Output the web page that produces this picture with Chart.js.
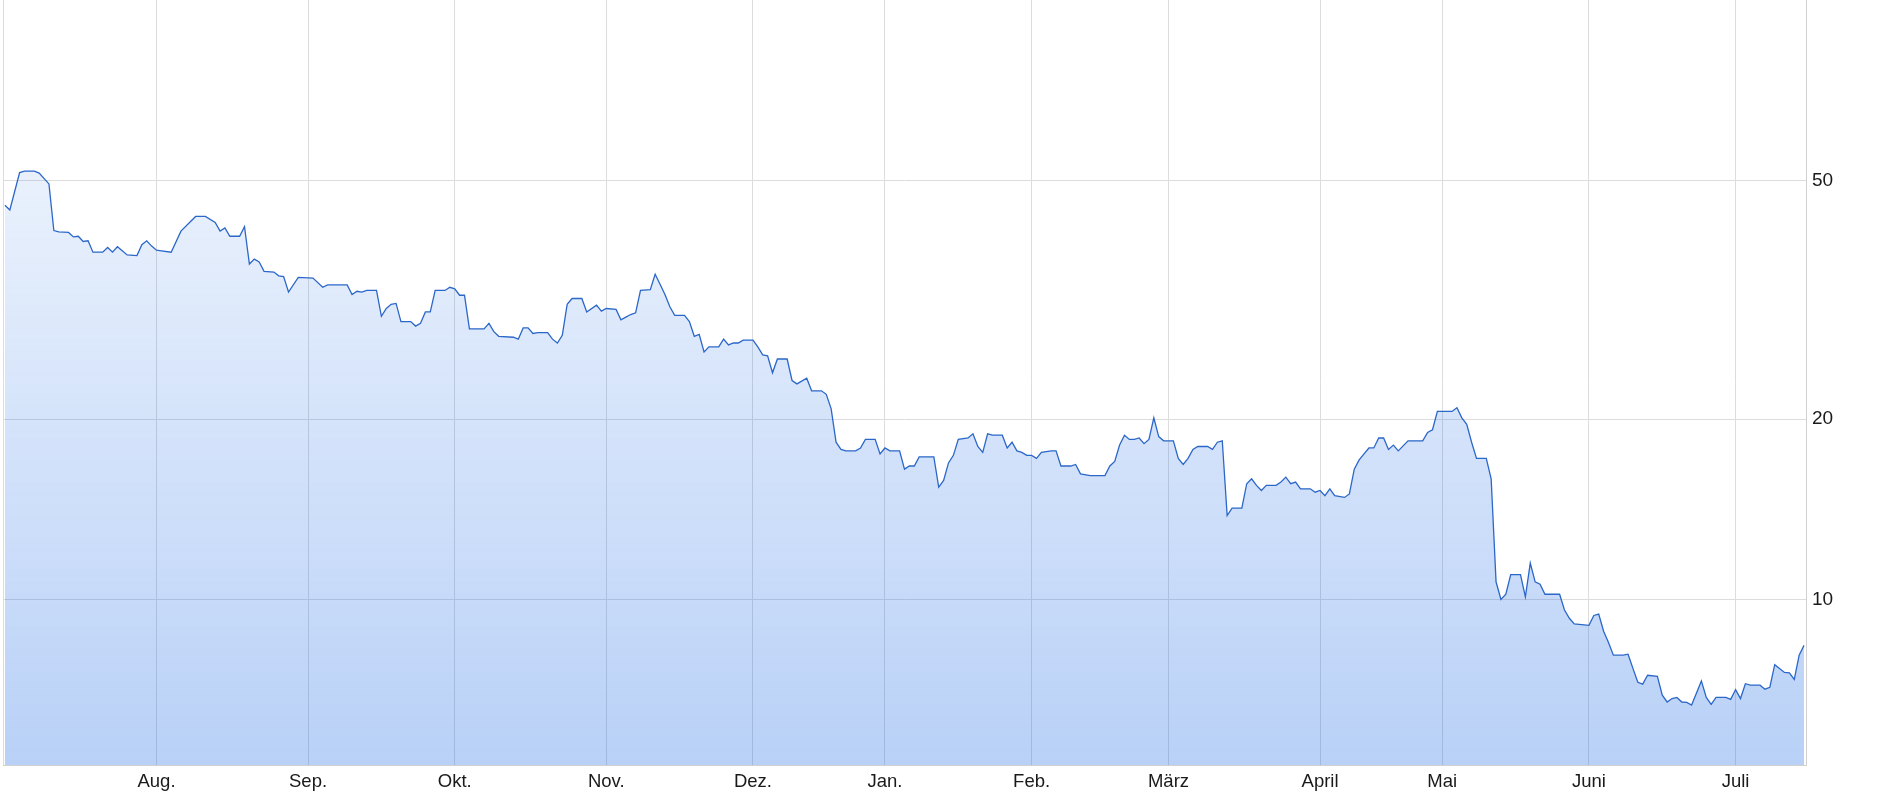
<!DOCTYPE html>
<html lang="de">
<head>
<meta charset="utf-8">
<title>Kursverlauf</title>
<script src="https://cdn.jsdelivr.net/npm/chart.js@4.4.1/dist/chart.umd.min.js"></script>
<style>
  html, body { margin: 0; padding: 0; background: #fff; }
  #wrap { width: 1880px; height: 798px; position: relative; }
</style>
</head>
<body>
<div id="wrap"><canvas id="kursChart"></canvas></div>
<script>
// -------------------------------
//  DATA (day index from first point, price)
// -------------------------------
const tradeDay = [
    0, 1, 3, 4, 6, 7, 9, 10, 11, 13, 14, 15, 16, 17, 18, 20, 21, 22, 23, 25,
    27, 28, 29, 30, 31, 32, 34, 36, 39, 41, 43, 44, 45, 46, 48, 49, 50, 51, 52, 53,
    55, 56, 57, 58, 60,
    63, 65, 66, 68, 70, 71, 72, 73, 74, 76, 77, 78, 79, 80, 81, 83, 84, 85, 86, 87,
    88, 90, 91, 92, 93, 94, 95, 98, 99, 100, 101, 104, 105, 106, 107, 108, 109, 111, 112, 113,
    114, 115, 116, 118, 119, 121, 122, 123,
    125, 126, 127, 128, 129, 130, 132, 133, 134, 135, 136, 137, 139, 140, 141, 142, 143, 144, 146, 147,
    148, 149, 150, 151, 153, 154, 155, 156, 157, 158, 160, 161, 162, 164, 165, 167, 168, 169, 170, 171,
    172, 174, 175, 176, 178, 179, 180, 181, 183,
    184, 185, 186, 187, 188, 190, 191, 192, 193, 194, 195, 197, 198, 199, 200, 201, 202, 204, 205, 206,
    207, 208, 209, 210, 211, 212, 214, 215, 216, 218, 219, 220, 222, 223, 225, 226, 227, 228, 229, 230,
    231, 232, 233, 234, 235, 236, 237, 239,
    240, 241, 242, 243, 244, 246, 247, 248, 249, 250, 251, 253, 254, 255, 256, 257, 258, 260, 261, 262,
    263, 264, 265, 267, 268, 269, 270, 271, 272, 274, 275, 276, 277, 278, 279, 280, 281, 282, 283, 284,
    285, 287, 288, 290, 291, 292, 293, 295, 296,
    297, 298, 299, 300, 301, 302, 303, 304, 305, 306, 307, 308, 310, 311, 312, 313, 314, 315, 317, 318,
    319, 320, 321, 324, 325, 326, 327, 328, 329, 331, 332, 333, 334, 335, 336, 338, 339, 340, 341, 342,
    343, 344, 345, 346, 347, 348, 349, 350, 352, 353, 354, 355, 356, 357, 359, 360, 361, 362, 364, 365,
    366, 367, 368
];

const closePrice = [
    45.5, 44.7, 51.6, 51.9, 51.9, 51.5, 49.4, 41.3, 41.1, 41.0, 40.3, 40.4, 39.6, 39.7, 38.0, 38.0, 38.7, 38.0, 38.8, 37.6,
    37.5, 39.1, 39.7, 38.9, 38.3, 38.2, 38.0, 41.2, 43.6, 43.6, 42.6, 41.2, 41.7, 40.4, 40.4, 41.9, 36.3, 37.0, 36.6, 35.3,
    35.2, 34.7, 34.6, 32.6, 34.5,
    34.4, 33.2, 33.5, 33.5, 33.5, 32.3, 32.7, 32.6, 32.8, 32.8, 29.7, 30.6, 31.1, 31.2, 29.1, 29.1, 28.6, 28.9, 30.2, 30.2,
    32.8, 32.8, 33.2, 33.0, 32.2, 32.2, 28.3, 28.3, 28.9, 28.0, 27.5, 27.4, 27.2, 28.4, 28.4, 27.8, 27.9, 27.9, 27.2, 26.8,
    27.6, 31.1, 31.8, 31.8, 30.2, 31.0, 30.3, 30.6,
    30.5, 29.3, 29.6, 29.9, 30.1, 32.8, 32.9, 34.9, 33.6, 32.3, 30.8, 29.8, 29.8, 29.1, 27.5, 27.7, 25.9, 26.4, 26.4, 27.2,
    26.6, 26.8, 26.8, 27.1, 27.1, 26.4, 25.6, 25.5, 23.9, 25.2, 25.2, 23.2, 22.9, 23.4, 22.3, 22.3, 22.0, 20.8, 18.3, 17.8,
    17.7, 17.7, 17.9, 18.5, 18.5, 17.5, 17.9, 17.7, 17.7,
    16.5, 16.7, 16.7, 17.3, 17.3, 17.3, 15.4, 15.8, 16.9, 17.4, 18.5, 18.6, 18.9, 18.0, 17.6, 18.9, 18.8, 18.8, 17.9, 18.3,
    17.7, 17.6, 17.4, 17.4, 17.2, 17.6, 17.7, 17.7, 16.7, 16.7, 16.8, 16.2, 16.1, 16.1, 16.1, 16.7, 17.0, 18.1, 18.8, 18.5,
    18.5, 18.6, 18.2, 18.5, 20.1, 18.7, 18.4, 18.4,
    17.2, 16.8, 17.2, 17.8, 18.0, 18.0, 17.8, 18.3, 18.4, 13.8, 14.2, 14.2, 15.6, 15.9, 15.5, 15.2, 15.5, 15.5, 15.7, 16.0,
    15.6, 15.7, 15.3, 15.3, 15.1, 15.2, 14.9, 15.3, 14.9, 14.8, 15.0, 16.5, 17.1, 17.5, 17.9, 17.9, 18.6, 18.6, 17.8, 18.1,
    17.7, 18.4, 18.4, 18.4, 19.0, 19.2, 20.6, 20.6, 20.6,
    20.9, 20.1, 19.6, 18.3, 17.2, 17.2, 17.2, 15.9, 10.7, 10.0, 10.2, 11.0, 11.0, 10.1, 11.5, 10.7, 10.6, 10.2, 10.2, 10.2,
    9.6, 9.3, 9.1, 9.05, 9.4, 9.45, 8.85, 8.47, 8.07, 8.07, 8.1, 7.67, 7.27, 7.22, 7.47, 7.44, 6.92, 6.74, 6.83, 6.86,
    6.74, 6.73, 6.66, 6.98, 7.31, 6.86, 6.68, 6.86, 6.86, 6.81, 7.07, 6.83, 7.23, 7.19, 7.19, 7.08, 7.13, 7.78, 7.55, 7.54,
    7.35, 8.07, 8.38
];

// Month starts on the day axis
const monthLabels = ['Aug.', 'Sep.', 'Okt.', 'Nov.', 'Dez.', 'Jan.', 'Feb.', 'März', 'April', 'Mai', 'Juni', 'Juli'];
const monthStart = [31, 62, 92, 123, 153, 180, 210, 238, 269, 294, 324, 354];

// Price axis ticks (log scale)
const priceTicks = [10, 20, 50];

// -------------------------------
//  THEME
// -------------------------------
const GRID_COLOR = '#dcdcdc';
const BORDER_COLOR = '#d0d0d0';
const LINE_COLOR = '#2b67c9';
const TEXT_COLOR = '#1a1a1a';
const FONT_FAMILY = "'Liberation Sans', Arial, sans-serif";

const X_MIN = -0.4, X_MAX = 368.4;
const Y_MIN = 5.29, Y_MAX = 100.2;

function areaGradient(context) {
    const chart = context.chart;
    const area = chart.chartArea;
    if (!area) return 'rgba(22,102,228,0.15)';
    const g = chart.ctx.createLinearGradient(0, area.top, 0, area.bottom);
    g.addColorStop(0, 'rgba(22,102,228,0.03)');
    g.addColorStop(1, 'rgba(22,102,228,0.30)');
    return g;
}

const points = tradeDay.map((d, i) => ({ x: d, y: closePrice[i] }));

new Chart(document.getElementById('kursChart').getContext('2d'), {
    type: 'line',
    data: {
        datasets: [{
            label: 'Kurs',
            data: points,
            borderColor: LINE_COLOR,
            borderWidth: 1.3,
            backgroundColor: areaGradient,
            fill: 'start',
            pointRadius: 0,
            tension: 0
        }]
    },
    options: {
        responsive: true,
        maintainAspectRatio: false,
        animation: false,
        layout: { padding: { left: 3, top: 0, right: 0, bottom: 0 } },
        plugins: {
            legend: { display: false },
            tooltip: { enabled: false }
        },
        scales: {
            x: {
                type: 'linear',
                min: X_MIN,
                max: X_MAX,
                afterBuildTicks: scale => {
                    scale.ticks = [{ value: X_MIN }].concat(monthStart.map(v => ({ value: v })));
                },
                afterFit: scale => {
                    scale.height = 33;
                    scale.paddingLeft = 0;
                    scale.paddingRight = 0;
                },
                grid: { color: GRID_COLOR, drawTicks: false },
                border: { display: true, color: BORDER_COLOR },
                ticks: {
                    autoSkip: false,
                    maxRotation: 0,
                    padding: 6,
                    color: TEXT_COLOR,
                    font: { family: FONT_FAMILY, size: 18.5 },
                    callback: value => {
                        const idx = monthStart.indexOf(value);
                        return idx >= 0 ? monthLabels[idx] : '';
                    }
                }
            },
            y: {
                type: 'logarithmic',
                position: 'right',
                min: Y_MIN,
                max: Y_MAX,
                afterBuildTicks: scale => {
                    scale.ticks = priceTicks.map(v => ({ value: v }));
                },
                afterFit: scale => {
                    scale.width = 74;
                    scale.paddingTop = 0;
                    scale.paddingBottom = 0;
                },
                grid: { color: GRID_COLOR, drawTicks: false },
                border: { display: true, color: BORDER_COLOR },
                ticks: {
                    padding: 6,
                    color: TEXT_COLOR,
                    font: { family: FONT_FAMILY, size: 19 },
                    callback: value => String(value)
                }
            }
        }
    }
});
</script>
</body>
</html>
